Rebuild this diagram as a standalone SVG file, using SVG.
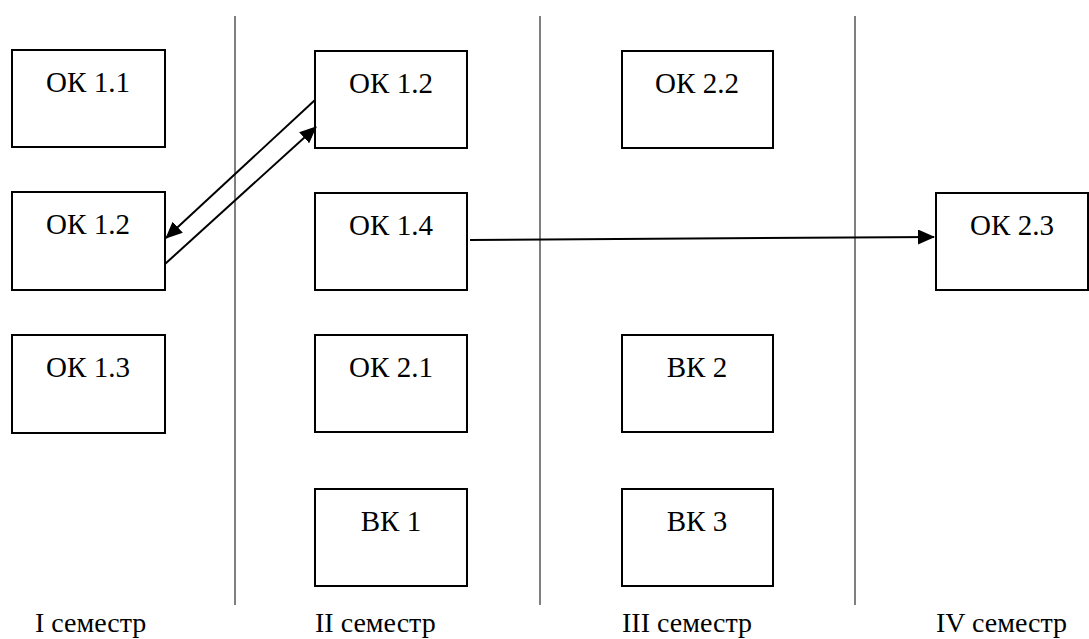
<svg xmlns="http://www.w3.org/2000/svg" width="1089" height="639" viewBox="0 0 1089 639">
<style>
.box rect{fill:#fff;stroke:#000;stroke-width:2}
.box text{font-family:"Liberation Serif","Times New Roman",serif;font-size:29px;fill:#000;text-anchor:middle}
.sep{stroke:#000;stroke-width:1}
.lbl{font-family:"Liberation Serif","Times New Roman",serif;font-size:28px;fill:#000}
.conn line{stroke:#000;stroke-width:2;fill:none;marker-end:url(#ah)}
</style>
<defs>
<marker id="ah" viewBox="0 0 17 15" refX="16" refY="7.5" markerWidth="17" markerHeight="15" markerUnits="userSpaceOnUse" orient="auto">
<path d="M0,0 L17,7.5 L0,15 z" fill="#000"/>
</marker>
</defs>
<rect width="1089" height="639" fill="#fff"/>
<g id="separators">
<line class="sep" x1="235" y1="16" x2="235" y2="605"/>
<line class="sep" x1="540" y1="16" x2="540" y2="605"/>
<line class="sep" x1="855" y1="16" x2="855" y2="605"/>
</g>
<g id="n-ok11" class="box"><rect x="12" y="50" width="153" height="97"/><text x="88" y="92">ОК 1.1</text></g>
<g id="n-ok12a" class="box"><rect x="12" y="192" width="153" height="98"/><text x="88" y="234">ОК 1.2</text></g>
<g id="n-ok13" class="box"><rect x="12" y="335" width="153" height="98"/><text x="88" y="377">ОК 1.3</text></g>
<g id="n-ok12b" class="box"><rect x="315" y="51" width="152" height="97"/><text x="391" y="93">ОК 1.2</text></g>
<g id="n-ok14" class="box"><rect x="315" y="193" width="152" height="97"/><text x="391" y="235">ОК 1.4</text></g>
<g id="n-ok21" class="box"><rect x="315" y="335" width="152" height="97"/><text x="391" y="377">ОК 2.1</text></g>
<g id="n-vk1" class="box"><rect x="315" y="489" width="152" height="97"/><text x="391" y="531">ВК 1</text></g>
<g id="n-ok22" class="box"><rect x="622" y="51" width="151" height="97"/><text x="697" y="93">ОК 2.2</text></g>
<g id="n-vk2" class="box"><rect x="622" y="335" width="151" height="97"/><text x="697" y="377">ВК 2</text></g>
<g id="n-vk3" class="box"><rect x="622" y="489" width="151" height="97"/><text x="697" y="531">ВК 3</text></g>
<g id="n-ok23" class="box"><rect x="936" y="193" width="152" height="97"/><text x="1012" y="235">ОК 2.3</text></g>
<g id="connectors" class="conn">
<line x1="315" y1="100" x2="166" y2="238"/>
<line x1="165" y1="264" x2="316" y2="127"/>
<line x1="470" y1="240" x2="934" y2="237"/>
</g>
<g id="labels">
<text class="lbl" x="35" y="632">I семестр</text>
<text class="lbl" x="315" y="632">II семестр</text>
<text class="lbl" x="622" y="632">III семестр</text>
<text class="lbl" x="936" y="632">IV семестр</text>
</g>
</svg>
